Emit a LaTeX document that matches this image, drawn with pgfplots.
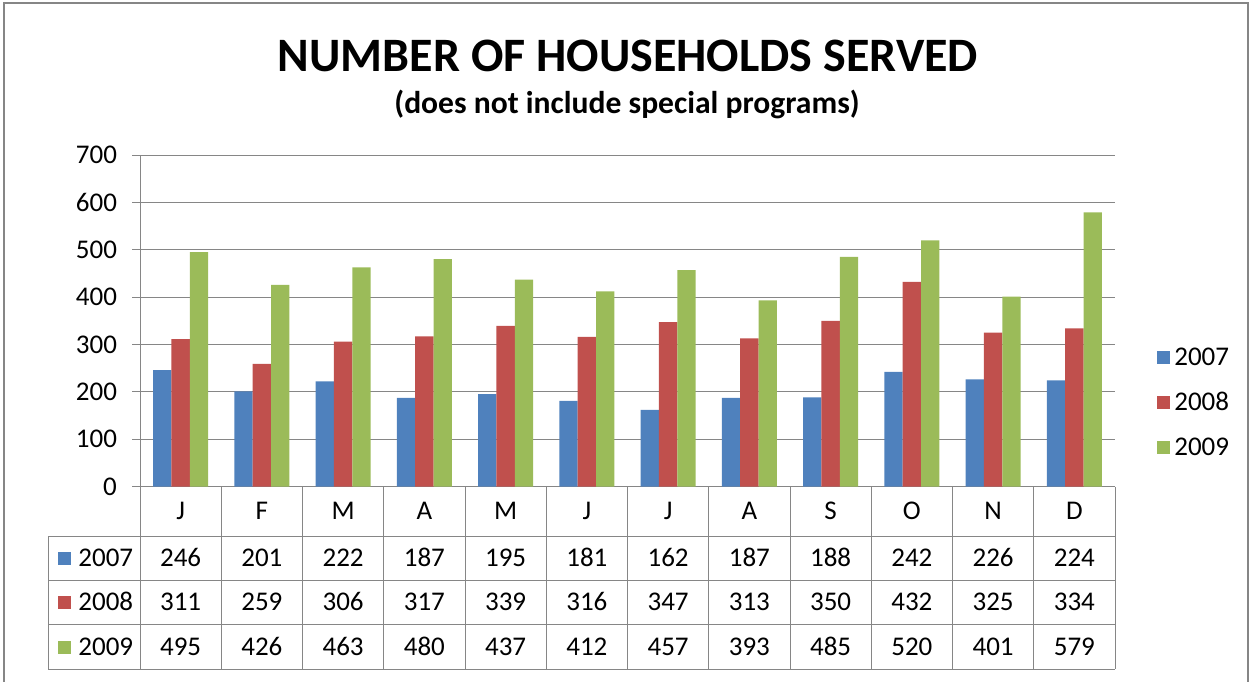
\documentclass[border=0pt]{standalone}
\usepackage{pgfplots}
\pgfplotsset{compat=1.18}
\usepackage{pgfplotstable}
\usepackage{fontspec}
\setmainfont{Carlito}

\definecolor{c07}{HTML}{4F81BD}
\definecolor{c08}{HTML}{C0504D}
\definecolor{c09}{HTML}{9BBB59}
\definecolor{gridc}{HTML}{868686}

% households served per month (does not include special programs)
\pgfplotstableread{
x m y07 y08 y09
0  J 246 311 495
1  F 201 259 426
2  M 222 306 463
3  A 187 317 480
4  M 195 339 437
5  J 181 316 412
6  J 162 347 457
7  A 187 313 393
8  S 188 350 485
9  O 242 432 520
10 N 226 325 401
11 D 224 334 579
}\households

\newcommand{\lblfont}{\fontsize{13.5}{16}\selectfont}

\begin{document}
\begin{tikzpicture}[x=0.5pt,y=-0.5pt]
\useasboundingbox (0,0) rectangle (1252,681);
\draw[gridc, line width=1pt] (4,3) rectangle (1248,730);

\node[font=\fontsize{24}{28}\selectfont\bfseries] at (628,56) {NUMBER OF HOUSEHOLDS SERVED};
\node[font=\fontsize{15.8}{19}\selectfont\bfseries] at (627,104) {(does not include special programs)};

\begin{axis}[
    at={(70pt,-243.25pt)}, anchor=south west,
    scale only axis, width=487.5pt, height=165.75pt,
    xmin=-0.5, xmax=11.5, ymin=0, ymax=700,
    ytick={0,100,...,700}, xtick=\empty,
    axis y line*=left, axis x line*=bottom,
    axis line style={gridc, line width=0.5pt},
    ymajorgrids, grid style={gridc, line width=0.5pt},
    tick align=outside, major tick length=4pt,
    ytick style={gridc, line width=0.5pt},
    /pgf/number format/assume math mode=true,
    tick label style={font=\lblfont, black},
    yticklabel style={xshift=-4pt},
    ybar=0pt, bar width=0.225,
    legend style={draw=none, fill=none, at={(1.043,0.252)}, anchor=west,
        font=\lblfont, row sep=8pt, inner sep=0pt, cells={anchor=west}},
    sq/.style={draw=none, fill=#1,
        legend image code/.code={\fill[#1] (0pt,-3.25pt) rectangle (6.5pt,3.25pt);}},
]
\addplot[sq=c07] table[x=x, y=y07] {\households};
\addplot[sq=c08] table[x=x, y=y08] {\households};
\addplot[sq=c09] table[x=x, y=y09] {\households};
\legend{2007,2008,2009}
\end{axis}

% data table under the plot
\foreach \k in {0,...,12}
    \draw[gridc, line width=0.5pt] ({140+81.25*\k},486.5) -- ({140+81.25*\k},669);
\draw[gridc, line width=0.5pt] (48,536) -- (48,669);
\foreach \yy in {536,580,624.5,669}
    \draw[gridc, line width=0.5pt] (48,\yy) -- (1115,\yy);

\foreach \r in {0,...,11}{
    \pgfplotstablegetelem{\r}{m}\of\households
    \node[font=\lblfont, inner sep=0pt, anchor=base] at ({180.6+81.25*\r},519.5) {\pgfplotsretval};
    \pgfplotstablegetelem{\r}{y07}\of\households
    \node[font=\lblfont, inner sep=0pt, anchor=base] at ({180.6+81.25*\r},566) {\pgfplotsretval};
    \pgfplotstablegetelem{\r}{y08}\of\households
    \node[font=\lblfont, inner sep=0pt, anchor=base] at ({180.6+81.25*\r},610) {\pgfplotsretval};
    \pgfplotstablegetelem{\r}{y09}\of\households
    \node[font=\lblfont, inner sep=0pt, anchor=base] at ({180.6+81.25*\r},655) {\pgfplotsretval};
}

\fill[c07] (58,552) rectangle (71,565);
\node[font=\lblfont, inner sep=0pt, anchor=base west] at (78,566) {2007};
\fill[c08] (58,596) rectangle (71,609);
\node[font=\lblfont, inner sep=0pt, anchor=base west] at (78,610) {2008};
\fill[c09] (58,641) rectangle (71,654);
\node[font=\lblfont, inner sep=0pt, anchor=base west] at (78,655) {2009};
\end{tikzpicture}
\end{document}
